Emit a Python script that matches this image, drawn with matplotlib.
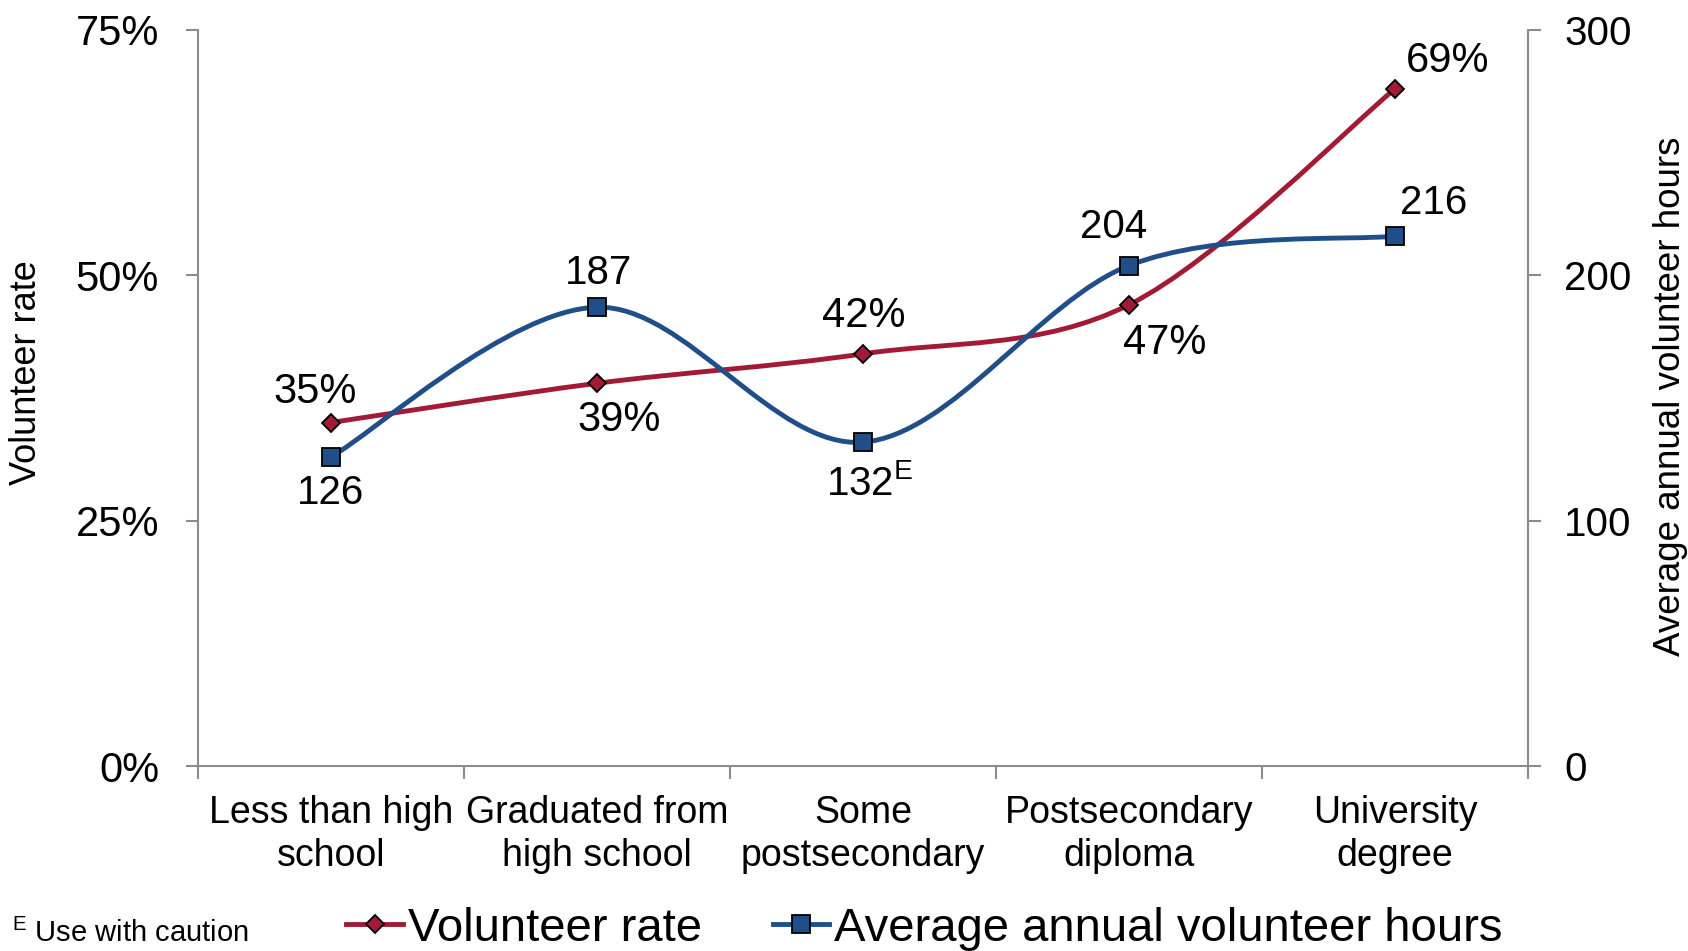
import matplotlib
matplotlib.use('Agg')
import matplotlib.pyplot as plt
from matplotlib.path import Path
from matplotlib.patches import PathPatch
from matplotlib.lines import Line2D
from matplotlib.ticker import FixedLocator, FuncFormatter

plt.rcParams['font.family'] = ['Liberation Sans', 'DejaVu Sans']
plt.rcParams['mathtext.fontset'] = 'custom'
plt.rcParams['mathtext.rm'] = 'Liberation Sans'

categories = ['Less than high\nschool', 'Graduated from\nhigh school', 'Some\npostsecondary',
              'Postsecondary\ndiploma', 'University\ndegree']
rate = [35, 39, 42, 47, 69]
hours = [126, 187, 132, 204, 216]
rate_labels = ['35%', '39%', '42%', '47%', '69%']
hours_labels = ['126', '187', '132$^{\\mathrm{E}}$', '204', '216']

# label offsets in pixels (dx, dy)
rate_offsets = [(-16, 31), (22, -37), (1, 38), (36, -38), (53, 28)]
hours_offsets = [(0, -36), (2, 34), (7, -41), (-15, 39), (39, 33)]

red = '#A31A36'
blue = '#1F4E89'
grey = '#8C8C8C'


def smooth_path(xs, ys):
    # Excel style smoothed line: cubic bezier through points (catmull-rom)
    pts = list(zip(xs, ys))
    n = len(pts)
    verts = [pts[0]]
    codes = [Path.MOVETO]
    for i in range(n - 1):
        p0 = pts[max(i - 1, 0)]
        p1 = pts[i]
        p2 = pts[i + 1]
        p3 = pts[min(i + 2, n - 1)]
        c1 = (p1[0] + (p2[0] - p0[0]) / 6.0, p1[1] + (p2[1] - p0[1]) / 6.0)
        c2 = (p2[0] - (p3[0] - p1[0]) / 6.0, p2[1] - (p3[1] - p1[1]) / 6.0)
        verts += [c1, c2, p2]
        codes += [Path.CURVE4] * 3
    return Path(verts, codes)


fig = plt.figure(figsize=(16.88, 9.51), dpi=100)
ax = fig.add_axes([198 / 1688, 1 - 766 / 951, 1330 / 1688, 736 / 951])
ax2 = ax.twinx()

x = list(range(len(categories)))

ax.add_patch(PathPatch(smooth_path(x, rate), facecolor='none', edgecolor=red, lw=3.5,
                       capstyle='round', zorder=2))
ax.plot(x, rate, ls='none', marker='D', ms=9, mfc=red, mec='black', mew=1.3, zorder=3)

ax2.add_patch(PathPatch(smooth_path(x, hours), facecolor='none', edgecolor=blue, lw=3.5,
                        capstyle='round', zorder=2))
ax2.plot(x, hours, ls='none', marker='s', ms=12.5, mfc=blue, mec='black', mew=1.3, zorder=3)

ax.set_xlim(-0.5, 4.5)
ax.set_ylim(0, 75)
ax2.set_ylim(0, 300)

ax.set_yticks([0, 25, 50, 75])
ax.yaxis.set_major_formatter(FuncFormatter(lambda v, p: '{:.0f}%'.format(v)))
ax2.set_yticks([0, 100, 200, 300])

ax.set_xticks(x)
ax.set_xticklabels(categories, fontsize=27, linespacing=1.25)
ax.xaxis.set_minor_locator(FixedLocator([-0.5, 0.5, 1.5, 2.5, 3.5, 4.5]))
ax.tick_params(axis='x', which='major', length=0, pad=21)
ax.tick_params(axis='x', which='minor', length=9, width=1.5, color=grey, direction='out')
ax.tick_params(axis='y', labelsize=30, length=9, width=1.5, color=grey, pad=19)
ax2.tick_params(axis='y', labelsize=29, length=9, width=1.5, color=grey, pad=17)

for a in (ax, ax2):
    a.spines['top'].set_visible(False)
    for s in ('left', 'right', 'bottom'):
        a.spines[s].set_color(grey)
        a.spines[s].set_linewidth(1.5)
ax.spines['right'].set_visible(False)
ax2.spines['left'].set_visible(False)
ax2.spines['bottom'].set_visible(False)

ax.set_ylabel('Volunteer rate', fontsize=26, va='center')
ax.yaxis.set_label_coords(-0.1286, 0.535)
ax2.set_ylabel('Average annual volunteer hours', fontsize=26.5, rotation=90, va='center')
ax2.yaxis.set_label_coords(1.107, 0.503)

for xi, v, lab, off in zip(x, rate, rate_labels, rate_offsets):
    ax2.annotate(lab, xy=(xi, v * 4), xytext=off, textcoords='offset pixels',
                 ha='center', va='center', fontsize=30)
for xi, v, lab, off in zip(x, hours, hours_labels, hours_offsets):
    ax2.annotate(lab, xy=(xi, v), xytext=off, textcoords='offset pixels',
                 ha='center', va='center', fontsize=29)

handles = [
    Line2D([], [], color=red, lw=3.5, marker='D', ms=9, mfc=red, mec='black', mew=1.3),
    Line2D([], [], color=blue, lw=3.5, marker='s', ms=12.5, mfc=blue, mec='black', mew=1.3),
]
fig.legend(handles, ['Volunteer rate', 'Average annual volunteer hours'],
           loc='center', bbox_to_anchor=(0.5477, 0.0235), ncol=2, frameon=False,
           fontsize=34, handlelength=1.2, handletextpad=0.1, columnspacing=1.5,
           borderpad=0, borderaxespad=0)

fig.text(12 / 1688, 1 - 942 / 951, '$^{\\mathrm{E}}$ Use with caution', fontsize=21,
         va='baseline', ha='left')

fig.savefig('out.png', dpi=100)
